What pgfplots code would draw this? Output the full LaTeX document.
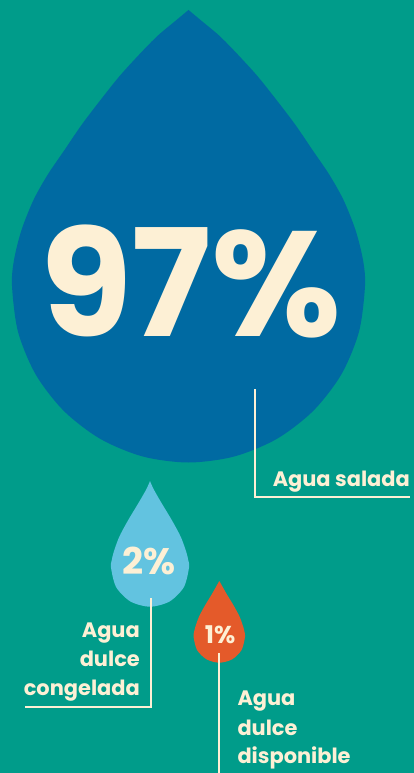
\documentclass[border=0pt]{standalone}
\usepackage{pgfplots}
\pgfplotsset{compat=1.18}
\usepackage{fontspec}
\setmainfont{Poppins}
\newfontfamily\popb{Poppins Bold}
\definecolor{bg}{HTML}{009C8A}
\definecolor{bigblue}{HTML}{006AA2}
\definecolor{lightblue}{HTML}{62C3E0}
\definecolor{orng}{HTML}{E45A2A}
\definecolor{cream}{HTML}{FDF0D5}
\begin{document}
\begin{tikzpicture}
\begin{axis}[
  scale only axis, width=414bp, height=773bp,
  xmin=0, xmax=414, ymin=0, ymax=773, y dir=reverse,
  hide axis, clip=true,
]
% background
\addplot[fill=bg, draw=none, mark=none] coordinates {(0,0) (414,0) (414,773) (0,773) (0,0)};
% big drop 97%
\addplot[fill=bigblue, draw=none, mark=none, smooth] coordinates {
(188.5,10) (200.5,20) (218.5,35) (233.5,50) (256.5,75) (276.5,100) (295.5,125) (312.5,150) (329.5,175) (343.5,200) (355.5,230) (363,260) (365,286)
(359,331.7) (341.4,374.3) (313.3,410.8) (276.8,438.9) (234.2,456.5) (188.5,462.5) (142.8,456.5) (100.3,438.9) (63.7,410.8) (35.6,374.3) (18,331.7) (12,286)
(14,260) (21.5,230) (33.5,200) (47.5,175) (64.5,150) (81.5,125) (100.5,100) (120.5,75) (143.5,50) (158.5,35) (176.5,20) (188.5,10)};
% small drop 2%
\addplot[fill=lightblue, draw=none, mark=none, smooth] coordinates {
(150,481.1) (153.9,489.7) (161.7,503.3) (171.8,520.1) (180.8,536.9) (186.3,552.1) (188.2,559.9) (189,567.7)
(183.8,587.2) (169.5,601.5) (150,606.7) (130.5,601.5) (116.2,587.2) (111,567.7)
(111.8,559.9) (113.7,552.1) (119.2,536.9) (128.2,520.1) (138.3,503.3) (146.1,489.7) (150,481.1)};
% small drop 1%
\addplot[fill=orng, draw=none, mark=none, smooth] coordinates {
(219.3,581) (221.9,585.6) (227.0,594.6) (233.7,605.6) (239.6,616.7) (243.2,626.7) (244.5,631.9) (245,637)
(241.6,649.9) (232.2,659.3) (219.3,662.7) (206.5,659.3) (197.0,649.9) (193.6,637)
(194.1,631.9) (195.4,626.7) (199.0,616.7) (204.9,605.6) (211.6,594.6) (216.7,585.6) (219.3,581)};
% leader lines
\addplot[draw=cream, line width=2.3bp, mark=none] coordinates {(255,389) (255,497) (410,497)};
\addplot[draw=cream, line width=2.3bp, mark=none] coordinates {(151,598) (151,706.7) (25,706.7)};
\addplot[draw=cream, line width=2.3bp, mark=none] coordinates {(219,653) (219,775)};
% texts
\node[anchor=base, inner sep=0, text=cream, font=\popb\fontsize{150}{150}\selectfont] at (axis cs:191,336) {97\%};
\node[anchor=base, inner sep=0, text=cream, font=\popb\fontsize{37}{37}\selectfont] at (axis cs:149.5,574) {2\%};
\node[anchor=base, inner sep=0, text=cream, font=\popb\fontsize{24.5}{24.5}\selectfont] at (axis cs:220.2,643.3) {1\%};
\node[anchor=base east, inner sep=0, text=cream, font=\popb\fontsize{21}{21}\selectfont] at (axis cs:410,486.7) {Agua salada};
\node[anchor=base east, inner sep=0, text=cream, font=\popb\fontsize{21}{21}\selectfont] at (axis cs:140,637.3) {Agua};
\node[anchor=base east, inner sep=0, text=cream, font=\popb\fontsize{21}{21}\selectfont] at (axis cs:140,666.7) {dulce};
\node[anchor=base east, inner sep=0, text=cream, font=\popb\fontsize{21}{21}\selectfont] at (axis cs:140,695) {congelada};
\node[anchor=base west, inner sep=0, text=cream, font=\popb\fontsize{21}{21}\selectfont] at (axis cs:237.3,705.7) {Agua};
\node[anchor=base west, inner sep=0, text=cream, font=\popb\fontsize{21}{21}\selectfont] at (axis cs:237.3,735) {dulce};
\node[anchor=base west, inner sep=0, text=cream, font=\popb\fontsize{21}{21}\selectfont] at (axis cs:237.3,763.3) {disponible};
\end{axis}
\end{tikzpicture}
\end{document}
